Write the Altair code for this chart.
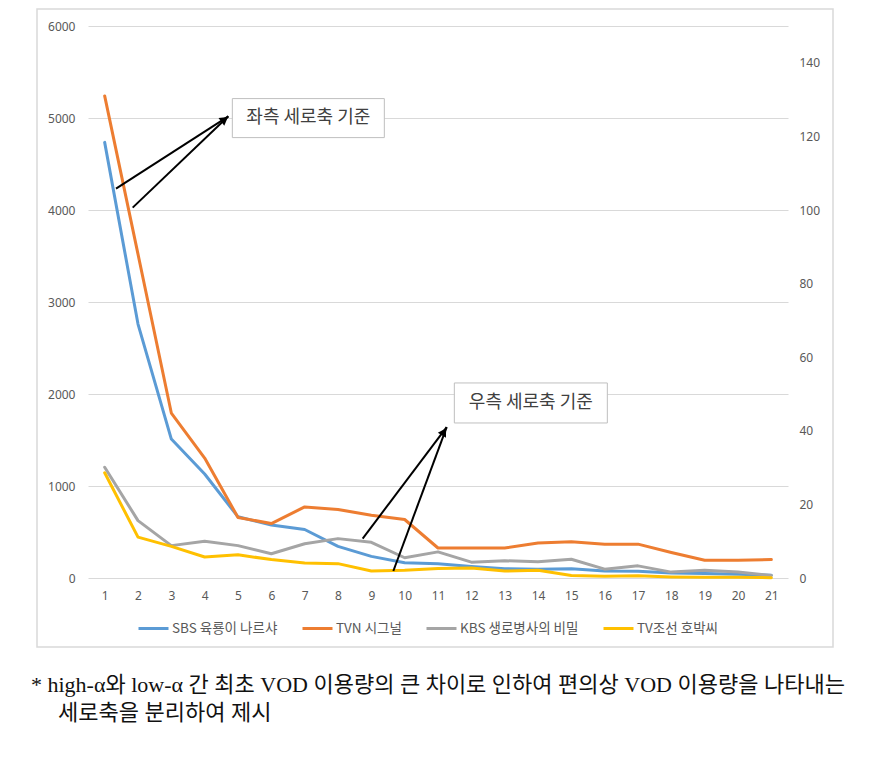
import altair as alt
import pandas as pd

# ---------------- data ----------------
episodes = list(range(1, 22))
series_names = ["SBS 육룡이 나르샤", "TVN 시그널", "KBS 생로병사의 비밀", "TV조선 호박씨"]
colors = ["#5B9BD5", "#ED7D31", "#A5A5A5", "#FFC000"]

# left axis (0-6000)
sbs = [4735, 2760, 1510, 1130, 665, 575, 527, 344, 235, 166, 155, 126, 101, 94, 101, 76, 73, 55, 48, 42, 30]
tvn = [5240, 3520, 1793, 1304, 658, 592, 773, 745, 683, 636, 326, 326, 326, 380, 393, 368, 368, 278, 193, 193, 200]
# right axis (0-150)
kbs = [30.1, 15.6, 8.8, 10.0, 8.8, 6.6, 9.3, 10.7, 9.7, 5.5, 7.1, 4.3, 4.7, 4.4, 5.1, 2.4, 3.3, 1.6, 2.1, 1.6, 0.7]
tvc = [28.6, 11.1, 8.6, 5.7, 6.3, 5.0, 4.1, 3.9, 1.9, 2.1, 2.6, 2.7, 1.9, 2.1, 0.7, 0.5, 0.6, 0.3, 0.2, 0.2, 0.1]

left_ticks = [0, 1000, 2000, 3000, 4000, 5000, 6000]
right_ticks = [0, 20, 40, 60, 80, 100, 120, 140]

# annotations (data coordinates on the left axis)
box_labels = ["좌측 세로축 기준", "우측 세로축 기준"]
box_x1 = [4.83, 11.49]
box_x2 = [9.39, 16.08]
box_y1 = [4787, 1685]
box_y2 = [5211, 2120]

arrow_x1 = [1.34, 1.84, 8.74, 9.66]
arrow_y1 = [4233, 4026, 428, 76]
arrow_x2 = [4.71, 4.71, 11.26, 11.26]
arrow_y2 = [5018, 5018, 1641, 1641]

head_x = [4.60, 11.18]
head_y = [4985, 1590]
head_angle = [52.7, 30.9]

footnote_lines = [
    "* high-α와 low-α 간 최초 VOD 이용량의 큰 차이로 인하여 편의상 VOD 이용량을 나타내는",
    "세로축을 분리하여 제시",
]

# ---------------- tables ----------------
left_df = pd.DataFrame({
    "episode": episodes * 2,
    "value": sbs + tvn,
    "series": [series_names[0]] * 21 + [series_names[1]] * 21,
})
right_df = pd.DataFrame({
    "episode": episodes * 2,
    "value": kbs + tvc,
    "series": [series_names[2]] * 21 + [series_names[3]] * 21,
})
box_df = pd.DataFrame({
    "x1": box_x1, "x2": box_x2, "y1": box_y1, "y2": box_y2, "label": box_labels,
    "xc": [(a + b) / 2 for a, b in zip(box_x1, box_x2)],
    "yc": [(a + b) / 2 for a, b in zip(box_y1, box_y2)],
})
arrow_df = pd.DataFrame({"x1": arrow_x1, "y1": arrow_y1, "x2": arrow_x2, "y2": arrow_y2})
head_df = pd.DataFrame({"x": head_x, "y": head_y, "ang": head_angle})
foot_df = pd.DataFrame({"t": footnote_lines, "line": [0, 1]})
one = pd.DataFrame({"a": [0]})

FONT = "Noto Sans CJK KR"
xscale = alt.Scale(domain=[0.5, 21.5], nice=False, zero=False)
lscale = alt.Scale(domain=[0, 6000], nice=False)
rscale = alt.Scale(domain=[0, 150], nice=False)
color = alt.Color(
    "series:N",
    scale=alt.Scale(domain=series_names, range=colors),
    sort=series_names,
    legend=alt.Legend(
        title=None, orient="none", legendX=49, legendY=586, direction="horizontal",
        symbolType="stroke", symbolSize=900, symbolStrokeWidth=3,
        labelFont=FONT, labelFontSize=13.5, labelColor="#595959",
        columnPadding=18, labelOffset=2,
    ),
)

x_axis = alt.Axis(values=episodes, title=None, grid=False, domain=False, ticks=False,
                  labelPadding=12, labelFont="Noto Sans", labelFontSize=12, labelColor="#595959")

border = alt.Chart(one).mark_rect(fillOpacity=0, stroke="#d9d9d9", strokeWidth=1.5).encode(
    x=alt.value(-51), x2=alt.value(745), y=alt.value(-17), y2=alt.value(621)
)

left_lines = alt.Chart(left_df).mark_line(strokeWidth=3, strokeJoin="round", strokeCap="round").encode(
    x=alt.X("episode:Q", scale=xscale, axis=x_axis),
    y=alt.Y("value:Q", scale=lscale,
            axis=alt.Axis(values=left_ticks, format="d", title=None, orient="left", grid=True,
                          gridColor="#d9d9d9", domain=False, ticks=False, labelPadding=13,
                          labelFont="Noto Sans", labelFontSize=12, labelColor="#595959")),
    color=color,
    order=alt.Order("episode:Q"),
)

right_lines = alt.Chart(right_df).mark_line(strokeWidth=3, strokeJoin="round", strokeCap="round").encode(
    x=alt.X("episode:Q", scale=xscale, axis=x_axis),
    y=alt.Y("value:Q", scale=rscale,
            axis=alt.Axis(values=right_ticks, format="d", title=None, orient="right", grid=False,
                          domain=False, ticks=False, labelPadding=11, labelFont="Noto Sans",
                          labelFontSize=12, labelColor="#595959")),
    color=alt.Color("series:N", scale=alt.Scale(domain=series_names, range=colors), legend=None),
    order=alt.Order("episode:Q"),
)

arrows = alt.Chart(arrow_df).mark_rule(color="black", strokeWidth=2).encode(
    x=alt.X("x1:Q", scale=xscale, axis=x_axis),
    x2="x2:Q",
    y=alt.Y("y1:Q", scale=lscale, axis=None),
    y2="y2:Q",
)

heads = alt.Chart(head_df).mark_point(shape="triangle-up", filled=True, color="black", size=90, opacity=1).encode(
    x=alt.X("x:Q", scale=xscale, axis=x_axis),
    y=alt.Y("y:Q", scale=lscale, axis=None),
    angle=alt.Angle("ang:Q", scale=None),
)

boxes = alt.Chart(box_df).mark_rect(fill="white", stroke="#bfbfbf", strokeWidth=1).encode(
    x=alt.X("x1:Q", scale=xscale, axis=x_axis),
    x2="x2:Q",
    y=alt.Y("y1:Q", scale=lscale, axis=None),
    y2="y2:Q",
)

box_text = alt.Chart(box_df).mark_text(font=FONT, fontSize=18, color="#404040").encode(
    x=alt.X("xc:Q", scale=xscale, axis=x_axis),
    y=alt.Y("yc:Q", scale=lscale, axis=None),
    text="label:N",
)

foot1 = alt.Chart(foot_df.iloc[[0]]).mark_text(
    font="Liberation Serif, Noto Sans CJK KR", fontSize=22, color="#111111", align="left", baseline="middle"
).encode(x=alt.value(-57), y=alt.value(659), text="t:N")
foot2 = alt.Chart(foot_df.iloc[[1]]).mark_text(
    font="Liberation Serif, Noto Sans CJK KR", fontSize=22, color="#111111", align="left", baseline="middle"
).encode(x=alt.value(-30), y=alt.value(687), text="t:N")

chart = alt.layer(
    border, left_lines, right_lines, arrows, heads, boxes, box_text, foot1, foot2
).resolve_scale(y="independent").properties(
    width=700, height=552,
    padding={"left": 80, "top": 18, "right": 60, "bottom": 160},
    autosize=alt.AutoSizeParams(type="none"),
    background="white",
).configure_view(strokeWidth=0, stroke="transparent").configure_axis(
    domain=False, ticks=False
)

chart.save("out.html", embed_options={"renderer": "svg", "actions": False})
